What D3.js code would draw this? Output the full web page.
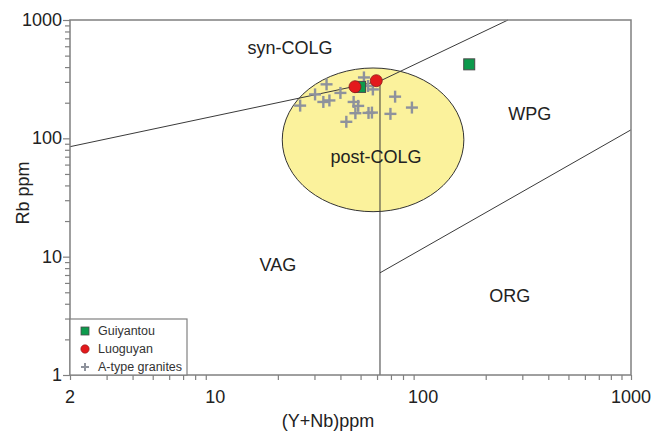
<!DOCTYPE html>
<html>
<head>
<meta charset="utf-8">
<script src="https://cdn.jsdelivr.net/npm/d3@7"></script>
<style>
  body { margin: 0; background: #fff; }
  svg { display: block; font-family: "Liberation Sans", Arial, sans-serif; }
</style>
</head>
<body>
<svg id="chart" width="665" height="433"></svg>
<script>
// axis ticks
const xTickLabels = [2, 10, 100, 1000];
const yTickLabels = [1, 10, 100, 1000];

// field boundaries (Y+Nb, Rb)
const boundaryLines = [
  [[2, 85], [62, 305]],        // VAG / syn-COLG
  [[62, 305], [256, 1000]],    // syn-COLG / WPG
  [[62, 1], [62, 305]],        // VAG / WPG
  [[62, 7.3], [1000, 118]]     // WPG / ORG
];

// post-COLG field extent
const postColgX = [21, 157];
const postColgY = [24, 393];

const fieldLabels = [
  { text: "syn-COLG", x: 22.9, y: 580 },
  { text: "WPG", x: 326, y: 160 },
  { text: "post-COLG", x: 59.3, y: 69.6 },
  { text: "VAG", x: 20, y: 8.5 },
  { text: "ORG", x: 261, y: 4.65 }
];

// samples
const guiyantou = [[49.7, 272], [166.6, 422]];
const luoguyan = [[47, 273], [59.5, 307]];
const aTypeGranites = [
  [34.3, 286], [51.9, 327], [30.2, 235], [40.0, 242], [25.6, 189],
  [33.1, 203], [35.4, 209], [46.3, 203], [48.7, 188], [54.3, 277],
  [57.3, 259], [73.3, 225], [88.3, 182], [47.2, 163], [54.6, 164],
  [56.7, 165], [69.6, 161], [42.7, 138]
];

const svg = d3.select("#chart");
const margin = { left: 70, right: 34, top: 20, bottom: 58 };
const width = 665, height = 433;

const x = d3.scaleLog().domain([2, 1000]).range([margin.left, width - margin.right]);
const y = d3.scaleLog().domain([1, 1000]).range([height - margin.bottom, margin.top]);

const axisColor = "#808080";
const lineColor = "#3a3a3a";

// post-COLG ellipse
const ex0 = x(postColgX[0]), ex1 = x(postColgX[1]);
const ey0 = y(postColgY[1]), ey1 = y(postColgY[0]);
svg.append("ellipse")
  .attr("cx", (ex0 + ex1) / 2)
  .attr("cy", (ey0 + ey1) / 2)
  .attr("rx", (ex1 - ex0) / 2)
  .attr("ry", (ey1 - ey0) / 2)
  .attr("fill", "#fbf29c")
  .attr("stroke", "#333")
  .attr("stroke-width", 1);

// boundary lines
svg.selectAll(".bline")
  .data(boundaryLines)
  .enter()
  .append("line")
  .attr("x1", d => x(d[0][0]))
  .attr("y1", d => y(d[0][1]))
  .attr("x2", d => x(d[1][0]))
  .attr("y2", d => y(d[1][1]))
  .attr("stroke", lineColor)
  .attr("stroke-width", 1);

// field labels
svg.selectAll(".flabel")
  .data(fieldLabels)
  .enter()
  .append("text")
  .attr("x", d => x(d.x))
  .attr("y", d => y(d.y))
  .attr("text-anchor", "middle")
  .attr("dominant-baseline", "central")
  .attr("font-size", 18)
  .attr("fill", "#222")
  .text(d => d.text);

// axes
const xMinor = [];
[1, 10, 100].forEach(b => { for (let i = 2; i <= 9; i++) if (b * i >= 2) xMinor.push(b * i); });
xMinor.push(1000);
const yMinor = [];
[1, 10, 100].forEach(b => { for (let i = 1; i <= 9; i++) yMinor.push(b * i); });
yMinor.push(1000);

const xAxis = d3.axisBottom(x).tickValues(xMinor).tickSize(5).tickFormat("");
const yAxis = d3.axisLeft(y).tickValues(yMinor).tickSize(5).tickFormat("");

const gx = svg.append("g").attr("transform", `translate(0,${y(1)})`).call(xAxis);
const gy = svg.append("g").attr("transform", `translate(${x(2)},0)`).call(yAxis);
[gx, gy].forEach(g => {
  g.select(".domain").remove();
  g.selectAll("line").attr("stroke", axisColor).attr("stroke-width", 1.2);
});
gy.selectAll(".tick line").filter(d => yTickLabels.includes(d)).attr("x2", -7);

// frame
svg.append("rect")
  .attr("x", x(2)).attr("y", y(1000))
  .attr("width", x(1000) - x(2)).attr("height", y(1) - y(1000))
  .attr("fill", "none")
  .attr("stroke", axisColor)
  .attr("stroke-width", 1.5);

// tick labels
svg.selectAll(".xl")
  .data(xTickLabels)
  .enter()
  .append("text")
  .attr("x", d => x(d))
  .attr("y", y(1) + 28)
  .attr("text-anchor", "middle")
  .attr("font-size", 18)
  .attr("fill", "#222")
  .text(d => d);

svg.selectAll(".yl")
  .data(yTickLabels)
  .enter()
  .append("text")
  .attr("x", x(2) - 8)
  .attr("y", d => y(d))
  .attr("text-anchor", "end")
  .attr("dominant-baseline", "central")
  .attr("font-size", 18)
  .attr("fill", "#222")
  .text(d => d);

// axis titles
svg.append("text")
  .attr("x", 328).attr("y", 427)
  .attr("text-anchor", "middle")
  .attr("font-size", 18)
  .attr("fill", "#222")
  .text("(Y+Nb)ppm");

svg.append("text")
  .attr("transform", "translate(29,193) rotate(-90)")
  .attr("text-anchor", "middle")
  .attr("font-size", 18)
  .attr("fill", "#222")
  .text("Rb ppm");

// symbols
const crossColor = "#8e929c";
const cross = (g, cx, cy, s) => {
  g.append("line").attr("x1", cx - s).attr("x2", cx + s).attr("y1", cy).attr("y2", cy);
  g.append("line").attr("x1", cx).attr("x2", cx).attr("y1", cy - s).attr("y2", cy + s);
};

const gc = svg.append("g").attr("stroke", crossColor).attr("stroke-width", 2.4);
aTypeGranites.forEach(d => cross(gc, x(d[0]), y(d[1]), 6));

svg.selectAll(".sq")
  .data(guiyantou)
  .enter()
  .append("rect")
  .attr("x", d => x(d[0]) - 5.5)
  .attr("y", d => y(d[1]) - 5.5)
  .attr("width", 11).attr("height", 11)
  .attr("fill", "#0c9a4c")
  .attr("stroke", "#4a4a4a")
  .attr("stroke-width", 1);

svg.selectAll(".ci")
  .data(luoguyan)
  .enter()
  .append("circle")
  .attr("cx", d => x(d[0]))
  .attr("cy", d => y(d[1]))
  .attr("r", 6)
  .attr("fill", "#e3191c")
  .attr("stroke", "#8a1c1c")
  .attr("stroke-width", 0.8);

// legend
const lg = svg.append("g");
lg.append("rect")
  .attr("x", x(2)).attr("y", 319)
  .attr("width", 117).attr("height", y(1) - 319)
  .attr("fill", "#fff")
  .attr("stroke", axisColor)
  .attr("stroke-width", 1.2);

const legendItems = ["Guiyantou", "Luoguyan", "A-type granites"];
const ly = [331, 349, 367];
lg.append("rect").attr("x", 81).attr("y", ly[0] - 4).attr("width", 8).attr("height", 8)
  .attr("fill", "#0c9a4c").attr("stroke", "#4a4a4a").attr("stroke-width", 0.8);
lg.append("circle").attr("cx", 85).attr("cy", ly[1]).attr("r", 4.2)
  .attr("fill", "#e3191c").attr("stroke", "#8a1c1c").attr("stroke-width", 0.6);
const lc = lg.append("g").attr("stroke", crossColor).attr("stroke-width", 2);
cross(lc, 85, ly[2], 4);

lg.selectAll(".lt")
  .data(legendItems)
  .enter()
  .append("text")
  .attr("x", 98)
  .attr("y", (d, i) => ly[i])
  .attr("dominant-baseline", "central")
  .attr("font-size", 12.5)
  .attr("fill", "#333")
  .text(d => d);
</script>
</body>
</html>
